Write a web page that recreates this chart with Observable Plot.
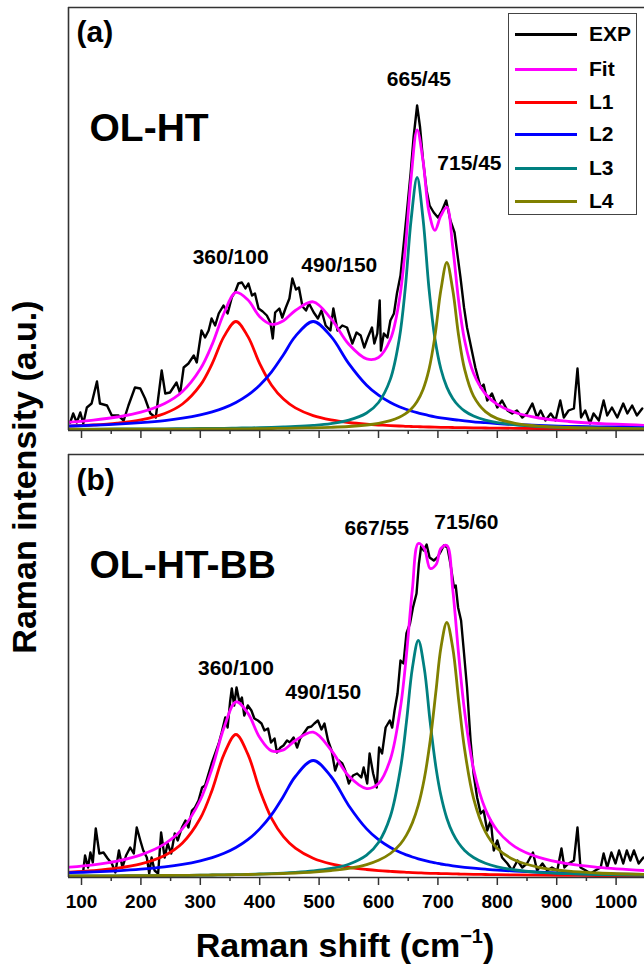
<!DOCTYPE html>
<html><head><meta charset="utf-8">
<script src="https://cdn.jsdelivr.net/npm/d3@7"></script>
<script src="https://cdn.jsdelivr.net/npm/@observablehq/plot@0.6"></script>
<style>
html,body{margin:0;padding:0;background:#fff;}
body{width:644px;height:966px;position:relative;overflow:hidden;font-family:"Liberation Sans",Arial,sans-serif;font-weight:bold;color:#000;}
#pa{position:absolute;left:0;top:0;}
#pb{position:absolute;left:0;top:447px;}
#legend{position:absolute;left:508px;top:13px;width:127px;height:200px;border:1.3px solid #444;background:#fff;z-index:2;}
.row{position:absolute;left:0;height:24px;display:flex;align-items:center;}
.sw{margin-left:6px;width:62px;height:3px;}
.lt{margin-left:12px;font-size:21px;line-height:24px;}
#ytitle{position:absolute;left:24px;top:477px;transform:translate(-50%,-50%) rotate(-90deg);white-space:nowrap;font-size:34px;line-height:34px;z-index:2;}
#xtitle{position:absolute;left:345px;top:945px;transform:translate(-50%,-50%);white-space:nowrap;font-size:34px;line-height:34px;z-index:2;}
#xtitle sup{font-size:20px;vertical-align:14px;line-height:0;}
</style></head><body>
<div id="pa"></div><div id="pb"></div>
<div id="legend"></div>
<div id="ytitle">Raman intensity (a.u.)</div>
<div id="xtitle">Raman shift (cm<sup>−1</sup>)</div>
<script>
// ---------- data ----------
const seriesNames = ["EXP","Fit","L1","L2","L3","L4"];
const seriesColors = ["#000000","#ff00ff","#ff0000","#0000ff","#008080","#808000"];
const majorTicks = [100,200,300,400,500,600,700,800,900,1000];
const minorTicks = [150,250,350,450,550,650,750,850,950];

// panel (a) OL-HT
const xa = [80,120,160,200,240,270,300,320,340,360,380,400,420,440,460,490,520,550,580,600,620,635,645,655,665,675,685,695,705,715,725,735,745,760,780,800,830,870,920,970,1050];
const L1a = [3.3,4.5,6.4,9.6,16.0,25.5,44.3,65.9,93.1,108,93.1,65.9,44.3,30.4,21.6,13.9,9.6,7.0,5.3,4.5,3.9,3.5,3.2,3.0,2.8,2.7,2.5,2.4,2.2,2.1,2.0,1.9,1.8,1.7,1.5,1.4,1.2,1.0,0.9,0.7,0.6];
const L2a = [3.5,4.3,5.3,6.8,8.9,11.3,14.6,17.6,21.6,27.0,34.3,44.3,57.7,74.8,93.1,108,93.1,65.9,44.3,34.3,27.0,22.8,20.5,18.5,16.8,15.3,13.9,12.7,11.7,10.8,10.0,9.3,8.6,7.7,6.8,6.0,5.0,4.1,3.2,2.6,1.9];
const L3a = [0.4,0.4,0.5,0.6,0.7,0.8,1.0,1.1,1.2,1.4,1.6,1.8,2.1,2.5,3.0,4.1,5.9,9.3,16.5,27.0,50.4,90.7,140.8,210.4,252,210.4,140.8,90.7,60.5,42.4,31.1,23.6,18.5,13.4,9.3,6.8,4.6,3.0,1.9,1.4,0.9];
const L4a = [0.2,0.2,0.3,0.3,0.4,0.4,0.5,0.5,0.6,0.7,0.7,0.8,1.0,1.1,1.3,1.7,2.2,3.0,4.5,6.2,8.9,12.2,15.6,20.5,28.1,40.1,60.1,93.4,139.4,167,139.4,93.4,60.1,33.4,17.9,10.9,6.2,3.4,2.0,1.3,0.7];
const fitA = [7.4,9.4,12.5,17.3,26.0,38.0,60.4,85.1,116.5,137.1,129.7,112.8,105.1,108.8,119.0,127.7,110.8,85.2,70.6,72.0,90.2,129.2,180.1,252.4,299.7,268.5,217.3,199.2,213.8,222.3,182.5,128.2,89.0,56.2,35.5,25.1,17.0,11.5,8.0,6.0,4.1];
const expAx = [81,86,92,98,103,109,117,126,131,143,151,162,171,179,190,199,207,216,225,235,241,249,260,266,272,280,289,294,302,308,314,319,325,331,339,346,353,359,364,370,376,381,387,392,398,405,412,418,422,426,433,438,444,450,455,461,466,472,478,483,491,498,504,511,519,524,531,539,547,556,563,570,576,582,589,593,598,602,604,609,615,620,626,631,637,643,648,654,659,665,670,675,681,686,693,700,707,714,721,728,732,738,744,749,756,763,772,777,783,791,800,808,817,825,833,842,850,859,867,873,881,890,898,906,912,920,929,935,941,948,956,962,971,979,985,993,1002,1012,1019,1027,1035,1044];
const expAy = [7,16,7,17,6,22,26,48,26,24,14,14,9,24,42,41,31,16,12,59,36,37,47,36,62,66,74,67,99,92,99,111,104,116,124,116,132,138,146,147,141,146,134,136,121,118,114,107,91,117,121,112,122,131,151,140,142,123,119,126,117,111,119,104,99,121,99,104,102,86,97,94,82,92,102,86,96,129,79,96,92,109,116,136,154,189,219,256,292,324,302,269,239,224,217,212,219,229,209,197,179,152,122,102,82,62,42,45,29,36,22,29,19,16,19,12,16,26,12,19,9,16,9,29,12,19,21,61,12,19,6,16,9,29,14,22,12,26,16,24,14,21];
const labelsA = ["360/100","490/150","665/45","715/45"];
const labelAx = [351,534,668,753];
const labelAy = [172,164,350,266];

// panel (b) OL-HT-BB
const xb = [80,120,160,200,240,270,300,320,340,360,380,400,420,440,460,490,520,550,580,600,620,637,647,657,667,677,687,697,705,715,725,735,745,760,780,800,830,870,920,970,1050];
const L1b = [4.4,5.9,8.3,12.6,21.0,33.5,58.2,86.6,122.4,142,122.4,86.6,58.2,39.9,28.4,18.3,12.6,9.2,7.0,5.9,5.1,4.5,4.2,3.9,3.7,3.4,3.2,3.1,2.9,2.8,2.6,2.5,2.4,2.2,2.0,1.8,1.6,1.3,1.1,1.0,0.7];
const L2b = [3.8,4.6,5.7,7.3,9.6,12.1,15.7,18.9,23.2,29.0,36.8,47.6,61.9,80.3,100.0,116,100.0,70.8,47.6,36.8,29.0,24.0,21.6,19.5,17.7,16.1,14.7,13.5,12.5,11.6,10.7,9.9,9.2,8.3,7.3,6.4,5.4,4.4,3.4,2.8,2.0];
const L3b = [0.5,0.6,0.7,0.8,1.0,1.1,1.3,1.5,1.7,1.9,2.1,2.5,2.9,3.4,4.1,5.6,8.0,12.3,21.4,34.0,60.2,107.9,154.3,208.4,236,208.4,154.3,107.9,81.2,58.3,43.3,33.2,26.1,19.0,13.2,9.7,6.5,4.2,2.8,1.9,1.2];
const L4b = [0.6,0.6,0.7,0.9,1.0,1.1,1.3,1.5,1.6,1.8,2.0,2.3,2.6,3.0,3.5,4.4,5.9,8.1,11.9,16.2,23.0,32.7,41.4,53.6,71.3,97.5,135.7,186.8,228.6,254,228.6,175.9,127,78.2,44.6,28.1,16.2,9.2,5.3,3.5,2.0];
const fitB = [9.3,11.7,15.4,21.6,32.6,47.8,76.5,108.5,148.9,174.7,163.3,139.0,125.6,126.6,136.0,144.3,126.5,100.4,87.9,92.9,117.3,169.1,221.5,287,333,328,308,312,328,331,287,221.5,164.7,107.7,67.1,46.0,29.7,19.1,12.6,9.2,5.9];
const expBx = [103,106,111,115,119,124,130,137,144,151,157,163,169,175,182,188,193,199,204,210,214,218,223,229,234,240,245,251,257,262,269,275,280,286,291,297,303,308,314,319,325,331,336,342,346,350,353,357,361,366,370,374,380,386,391,397,403,408,414,419,425,429,435,440,446,451,457,463,468,474,481,487,492,498,504,509,515,521,527,533,539,544,550,557,564,571,575,581,585,591,597,601,606,612,619,623,627,632,637,642,647,653,658,664,668,672,676,681,686,693,699,704,710,716,721,727,730,734,739,744,749,755,760,766,772,777,783,789,794,800,808,817,825,834,842,850,860,867,876,884,892,901,908,913,920,929,935,940,949,957,965,974,979,985,992,999,1005,1012,1018,1024,1030,1038,1046];
const expBy = [6,21,9,24,14,48,23,24,18,13,4,26,9,21,29,23,49,36,26,19,3,19,6,3,44,19,33,23,43,36,49,56,49,66,69,76,89,91,103,113,123,133,144,159,149,174,188,171,189,174,179,161,171,166,158,156,153,146,148,134,138,124,129,131,136,134,139,129,138,143,149,150,153,156,147,153,136,126,106,116,113,106,93,101,103,99,109,93,123,103,89,129,123,149,156,149,166,183,216,213,243,253,269,283,313,331,326,332,319,316,319,324,331,329,313,289,291,269,256,223,189,136,103,79,63,66,46,56,26,36,19,13,6,16,9,13,24,6,13,6,9,6,28,9,13,16,49,9,6,3,6,9,23,9,24,13,26,13,26,16,26,13,19];
const labelsB = ["360/100","490/150","667/55","715/60"];
const labelBx = [360,507,597,748];
const labelBy = [208,184,348,354];

// ---------- drawing ----------
const X0 = 78.1, X1 = 1047.8, Y0 = -1, Y1 = 422;
const frameColor = "#333";

function panel(o) {
  const mk = (vals, xs, color, w, curve) =>
    Plot.line(vals, {x: (d, i) => xs[i], y: d => d, stroke: color, strokeWidth: w, curve, clip: true});
  return Plot.plot({
    width: 644, height: o.height,
    marginLeft: 68, marginRight: 0, marginTop: 7, marginBottom: o.marginBottom,
    x: {domain: [X0, X1]},
    y: {domain: [Y0, Y1], axis: null},
    style: {fontFamily: "'Liberation Sans', Arial, sans-serif", fontWeight: "bold", fontSize: "19px", background: "white", color: "black", overflow: "visible"},
    marks: [
      mk(o.ey, o.ex, seriesColors[0], 2.4, "linear"),
      mk(o.fit, o.xs, seriesColors[1], 2.8, "catmull-rom"),
      ...o.comps.map((c, k) => mk(c, o.xs, seriesColors[k + 2], 2.8, "catmull-rom")),
      Plot.ruleX([X0], {stroke: frameColor, strokeWidth: 1.6}),
      Plot.ruleY([Y1], {stroke: frameColor, strokeWidth: 1.6}),
      Plot.ruleY([Y0], {stroke: frameColor, strokeWidth: 1.6}),
      Plot.axisX({ticks: minorTicks, tickSize: 4, tickFormat: () => "", label: null, stroke: frameColor, strokeWidth: 1.5}),
      Plot.axisX({ticks: majorTicks, tickSize: 8, tickPadding: 9, label: null,
        tickFormat: o.showTickLabels ? (d => String(d)) : (() => ""),
        fontSize: 19, fontWeight: "bold", stroke: frameColor, strokeWidth: 1.5}),
      Plot.text(o.labels, {x: (d, i) => o.lx[i], y: (d, i) => o.ly[i], text: d => d,
        fontSize: 21, fontWeight: "bold", textAnchor: "middle", lineAnchor: "middle", fill: "black"}),
      Plot.text([o.tag], {text: d => d, frameAnchor: "top-left", dx: 8, dy: o.tagDy,
        fontSize: 30, fontWeight: "bold", textAnchor: "start", lineAnchor: "middle", fill: "black"}),
      Plot.text([o.name], {text: d => d, frameAnchor: "top-left", dx: 21, dy: o.nameDy,
        fontSize: 39, fontWeight: "bold", textAnchor: "start", lineAnchor: "middle", fill: "black"})
    ]
  });
}

document.getElementById("pa").append(panel({
  height: 442, marginBottom: 12, showTickLabels: false,
  xs: xa, comps: [L1a, L2a, L3a, L4a], fit: fitA, ex: expAx, ey: expAy,
  labels: labelsA, lx: labelAx, ly: labelAy,
  tag: "(a)", tagDy: 25, name: "OL-HT", nameDy: 121
}));
document.getElementById("pb").append(panel({
  height: 470, marginBottom: 40, showTickLabels: true,
  xs: xb, comps: [L1b, L2b, L3b, L4b], fit: fitB, ex: expBx, ey: expBy,
  labels: labelsB, lx: labelBx, ly: labelBy,
  tag: "(b)", tagDy: 26, name: "OL-HT-BB", nameDy: 111
}));

// legend
const legend = document.getElementById("legend");
const rowCenters = [20, 55, 88, 120, 154, 187];
seriesNames.forEach((n, i) => {
  const r = document.createElement("div");
  r.className = "row";
  r.style.top = (rowCenters[i] - 12) + "px";
  const s = document.createElement("div");
  s.className = "sw"; s.style.background = seriesColors[i];
  const t = document.createElement("div");
  t.className = "lt"; t.textContent = n;
  r.append(s, t);
  legend.append(r);
});
</script></body></html>
